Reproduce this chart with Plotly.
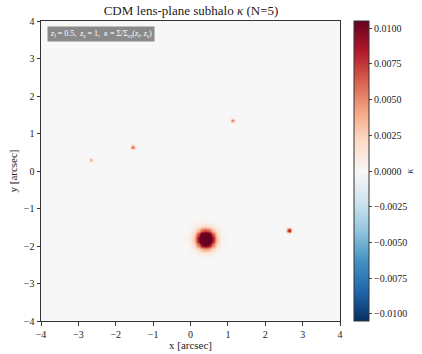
import numpy as np
import plotly.graph_objects as go

# Subhalo parameters
sub_x = [0.40, 2.64, 1.12, -1.55, -2.67]        # arcsec
sub_y = [-1.81, -1.58, 1.35, 0.64, 0.30]        # arcsec
sub_amp = [0.0170, 0.0090, 0.0060, 0.0065, 0.0050]  # peak kappa
sub_sigma = [0.170, 0.045, 0.035, 0.038, 0.032]     # arcsec

zlim = 0.0105
cbar_ticks = [-0.01, -0.0075, -0.005, -0.0025, 0.0, 0.0025, 0.005, 0.0075, 0.01]
axis_ticks = [-4, -3, -2, -1, 0, 1, 2, 3, 4]

n = 240
grid = np.linspace(-4, 4, n)
X, Y = np.meshgrid(grid, grid)
kappa = np.zeros_like(X)
for x0, y0, a, s in zip(sub_x, sub_y, sub_amp, sub_sigma):
    kappa += a * np.exp(-((X - x0) ** 2 + (Y - y0) ** 2) / (2 * s ** 2))

rdbu_r = ["#053061", "#2166ac", "#4393c3", "#92c5de", "#d1e5f0", "#f7f7f7",
          "#fddbc7", "#f4a582", "#d6604d", "#b2182b", "#67001f"]
cscale = [[i / 10, c] for i, c in enumerate(rdbu_r)]

font = "Liberation Serif"
fig = go.Figure(go.Heatmap(
    x=grid, y=grid, z=kappa, colorscale=cscale, zmin=-zlim, zmax=zlim, zsmooth="best",
    colorbar=dict(
        x=1.047, xanchor="left", xpad=0, ypad=0, y=0.5, yanchor="middle",
        len=1, lenmode="fraction", thickness=15,
        outlinecolor="#333", outlinewidth=1,
        tickvals=cbar_ticks, tickformat=".4f", ticks="outside", ticklen=3,
        tickfont=dict(family=font, size=10, color="#222"),
        title=dict(text="<i>κ</i>", side="right", font=dict(family=font, size=10)),
    ),
))

axis_common = dict(
    range=[-4, 4], tickvals=axis_ticks, ticks="outside", ticklen=3.5,
    tickcolor="#333", showline=True, linecolor="#333", linewidth=1, mirror=True,
    showgrid=False, zeroline=False, automargin=False,
    tickfont=dict(family=font, size=10, color="#222"),
)
fig.update_xaxes(**axis_common, title=dict(text="x [arcsec]", font=dict(family=font, size=11, color="#222"), standoff=2))
fig.update_yaxes(**axis_common, title=dict(text="y [arcsec]", font=dict(family=font, size=11, color="#222"), standoff=4))

fig.add_annotation(
    xref="paper", yref="paper", x=0.02, y=0.982, xanchor="left", yanchor="top",
    text="<i>z</i><sub><i>l</i></sub> = 0.5,  <i>z</i><sub><i>s</i></sub> = 1,  <i>κ</i> = Σ/Σ<sub>cr</sub>(<i>z</i><sub><i>l</i></sub>, <i>z</i><sub><i>s</i></sub>)",
    showarrow=False, bgcolor="#8a8a8a", borderpad=2, opacity=1,
    font=dict(family=font, size=8, color="white"),
)

fig.update_layout(
    width=422, height=354,
    margin=dict(l=41, r=82, t=21, b=33, autoexpand=False),
    paper_bgcolor="white", plot_bgcolor="#f7f7f7",
    title=dict(text="CDM lens-plane subhalo <i>κ</i> (N=5)", x=(41 + 150) / 422, xanchor="center",
               y=1 - 10 / 354, yanchor="middle", font=dict(family=font, size=13, color="#222")),
    font=dict(family=font),
)

fig.write_html("out.html")
